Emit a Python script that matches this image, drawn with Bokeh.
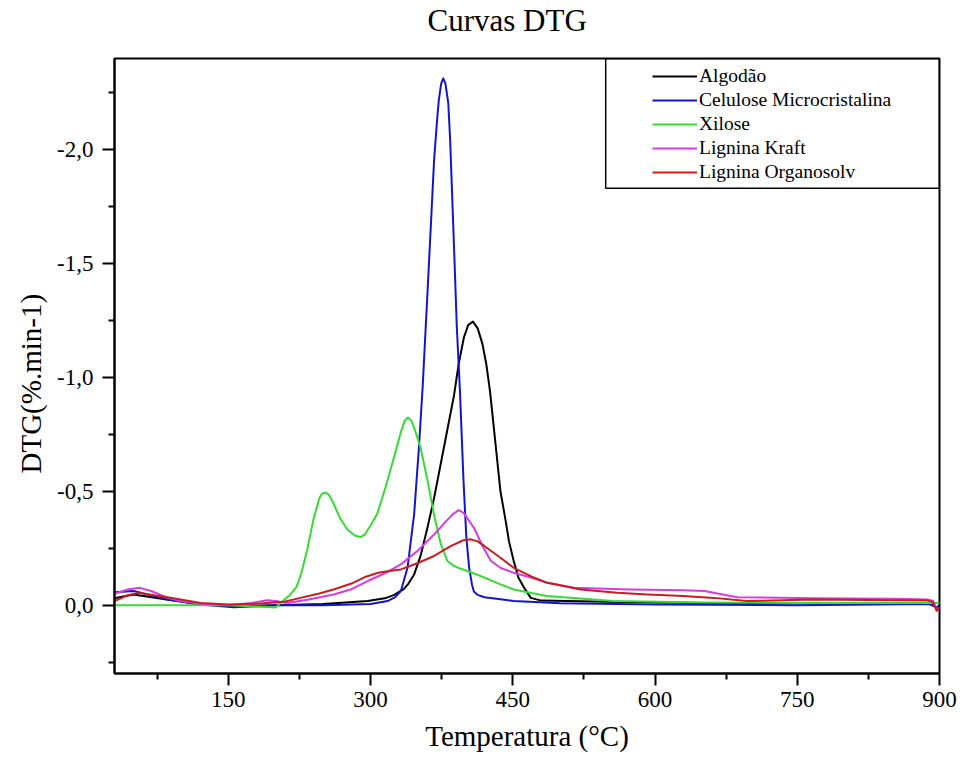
from bokeh.plotting import figure
from bokeh.models import Range1d, FixedTicker, CustomJSTickFormatter, BoxAnnotation, Title
from bokeh.embed import file_html
from bokeh.resources import INLINE

# ---------------- data ----------------
series_names = ["Algodão", "Celulose Microcristalina", "Xilose", "Lignina Kraft", "Lignina Organosolv"]
series_colors = ["#000000", "#1414c8", "#33dd33", "#d63ce0", "#c81e1e"]

algodao_t = [30, 50, 85, 120, 156, 200, 250, 297, 315, 325, 335, 340, 346, 353, 360, 367, 374, 381, 388,
             393, 398.5, 403, 408, 413, 418, 422, 426, 431, 437, 442.5, 446, 451, 456, 462, 469, 480,
             550, 650, 750, 850, 890, 897, 900]
algodao_dtg = [-0.03, -0.047, -0.025, -0.005, 0.004, 0.0, -0.005, -0.018, -0.03, -0.045, -0.07, -0.095,
               -0.135, -0.22, -0.34, -0.47, -0.62, -0.77, -0.92, -1.06, -1.176, -1.23, -1.245, -1.215,
               -1.147, -1.06, -0.94, -0.74, -0.50, -0.37, -0.28, -0.194, -0.12, -0.076, -0.032, -0.02,
               -0.015, -0.01, -0.008, -0.005, -0.005, 0.01, 0.0]

celulose_t = [30, 50, 86, 120, 156, 200, 250, 300, 318, 326, 332, 339, 346, 351, 355, 360, 364, 367, 370,
              372, 374.5, 376.7, 379, 382, 384, 386, 388.5, 391, 394.3, 398, 401, 404, 407, 409, 413, 420,
              437, 451, 500, 600, 750, 890, 897, 900]
celulose_dtg = [-0.057, -0.062, -0.025, -0.003, 0.009, 0.0, 0.0, -0.005, -0.018, -0.035, -0.062, -0.164,
                -0.40, -0.69, -0.96, -1.367, -1.70, -1.953, -2.12, -2.217, -2.29, -2.313, -2.29, -2.203,
                -2.04, -1.808, -1.52, -1.22, -0.94, -0.55, -0.30, -0.164, -0.09, -0.06, -0.045, -0.035,
                -0.026, -0.018, -0.008, -0.003, 0.0, -0.005, 0.01, 0.005]

xilose_t = [30, 100, 150, 190, 200, 208, 215, 222, 227, 233, 240, 246, 249, 252.6, 256, 260, 268, 276,
            284, 289.5, 294, 300, 307, 316, 324.7, 332, 336, 339.4, 343, 346, 352.8, 360, 366.8, 374, 381,
            387, 392, 402, 416, 437, 451, 486, 556, 650, 750, 850, 890, 900]
xilose_dtg = [0.0, 0.0, 0.0, 0.008, 0.01, -0.02, -0.045, -0.08, -0.14, -0.24, -0.38, -0.47, -0.49, -0.494,
              -0.485, -0.455, -0.38, -0.33, -0.305, -0.299, -0.31, -0.35, -0.40, -0.52, -0.648, -0.76,
              -0.81, -0.824, -0.81, -0.78, -0.69, -0.55, -0.40, -0.27, -0.194, -0.175, -0.165, -0.15,
              -0.128, -0.091, -0.069, -0.04, -0.018, -0.012, -0.01, -0.01, -0.01, -0.01]

kraft_t = [30, 45, 57, 70, 86, 100, 121, 150, 175, 191, 200, 212, 235, 261, 280, 297, 315, 332, 350, 367,
           380, 387, 393, 398, 404, 409, 418, 427, 437, 451, 470, 486.5, 514.5, 574, 630, 652, 670, 687,
           767, 850, 887, 893, 897, 900]
kraft_dtg = [-0.05, -0.07, -0.076, -0.06, -0.032, -0.018, -0.006, 0.0, -0.01, -0.022, -0.018, -0.01,
             -0.025, -0.047, -0.07, -0.106, -0.14, -0.179, -0.24, -0.31, -0.37, -0.40, -0.417, -0.405,
             -0.37, -0.34, -0.26, -0.194, -0.164, -0.142, -0.12, -0.098, -0.076, -0.069, -0.065, -0.062,
             -0.048, -0.035, -0.03, -0.028, -0.025, -0.02, 0.02, 0.01]

organosolv_t = [30, 45, 57, 70, 86, 121, 150, 180, 209, 226, 245, 261, 280, 295, 308, 320, 332, 350, 367,
                385, 398, 405.5, 413, 420, 437, 451, 470, 486.5, 521.6, 560, 592, 630, 662, 697, 767, 850,
                887, 893, 897, 900]
organosolv_dtg = [-0.018, -0.045, -0.054, -0.045, -0.035, -0.01, -0.003, -0.006, -0.015, -0.032, -0.05,
                  -0.069, -0.095, -0.125, -0.142, -0.15, -0.157, -0.185, -0.216, -0.26, -0.285, -0.289,
                  -0.28, -0.26, -0.208, -0.164, -0.125, -0.098, -0.069, -0.055, -0.047, -0.04, -0.032,
                  -0.018, -0.025, -0.022, -0.02, -0.015, 0.025, 0.01]

x_major = [150, 300, 450, 600, 750, 900]
x_minor = [75, 225, 375, 525, 675, 825]
y_major = [-2.0, -1.5, -1.0, -0.5, 0.0]
y_minor = [-2.25, -1.75, -1.25, -0.75, -0.25, 0.25]

title_text = "Curvas DTG"
x_label = "Temperatura (°C)"
y_label = "DTG(%.min-1)"

# ---------------- figure ----------------
FONT = "Liberation Serif"

p = figure(width=960, height=767, output_backend="svg", toolbar_location=None,
           x_range=Range1d(30, 900), y_range=Range1d(0.30, -2.40),
           min_border_left=114, min_border_right=21, min_border_top=58, min_border_bottom=94)

p.xgrid.visible = False
p.ygrid.visible = False
p.outline_line_color = "black"
p.outline_line_width = 2
p.background_fill_color = "white"
p.border_fill_color = "white"

# spacer panel between frame and title, then the title itself (farther from the frame)
spacer = Title(text=" ", standoff=8, text_font=FONT, text_font_size="10px")
p.add_layout(spacer, "above")
t = Title(text=title_text, align="left", offset=313, standoff=0,
          text_font=FONT, text_font_size="31px", text_font_style="normal", text_color="black")
p.add_layout(t, "above")

for ax in (p.xaxis[0], p.yaxis[0]):
    ax.axis_line_color = "black"
    ax.axis_line_width = 2
    ax.major_tick_line_color = "black"
    ax.major_tick_line_width = 2
    ax.minor_tick_line_color = "black"
    ax.minor_tick_line_width = 2
    ax.major_tick_in = 0
    ax.major_tick_out = 12
    ax.minor_tick_in = 0
    ax.minor_tick_out = 6
    ax.major_label_text_font = FONT
    ax.major_label_text_font_size = "23px"
    ax.major_label_text_color = "black"
    ax.axis_label_text_font = FONT
    ax.axis_label_text_font_size = "29px"
    ax.axis_label_text_font_style = "normal"
    ax.axis_label_text_color = "black"

p.xaxis[0].ticker = FixedTicker(ticks=x_major, minor_ticks=x_minor)
p.xaxis[0].major_label_standoff = 6
p.xaxis[0].axis_label = x_label
p.xaxis[0].axis_label_standoff = 10

p.yaxis[0].ticker = FixedTicker(ticks=y_major, minor_ticks=y_minor)
p.yaxis[0].formatter = CustomJSTickFormatter(code="return tick.toFixed(1).replace('.', ',');")
p.yaxis[0].major_label_standoff = 9

yt = Title(text=y_label, align="left", offset=200, standoff=16,
           text_font=FONT, text_font_size="29px", text_font_style="normal", text_color="black")
p.add_layout(yt, "left")

all_t = [algodao_t, celulose_t, xilose_t, kraft_t, organosolv_t]
all_y = [algodao_dtg, celulose_dtg, xilose_dtg, kraft_dtg, organosolv_dtg]
for name, color, xs, ys in zip(series_names, series_colors, all_t, all_y):
    p.line(xs, ys, line_color=color, line_width=2, legend_label=name, line_join="round")

box = BoxAnnotation(left=548, right=900, top=-2.40, bottom=-1.83,
                    fill_alpha=0, line_color="black", line_width=1.5, line_alpha=1)
p.add_layout(box)

lg = p.legend[0]
lg.location = (538, 489)
lg.margin = 0
lg.padding = 0
lg.spacing = 0
lg.border_line_alpha = 0
lg.background_fill_alpha = 0
lg.glyph_width = 45
lg.glyph_height = 24
lg.label_height = 24
lg.label_standoff = 2
lg.label_text_font = FONT
lg.label_text_font_size = "19.5px"
lg.label_text_color = "black"

open("out.html", "w").write(file_html(p, INLINE))
